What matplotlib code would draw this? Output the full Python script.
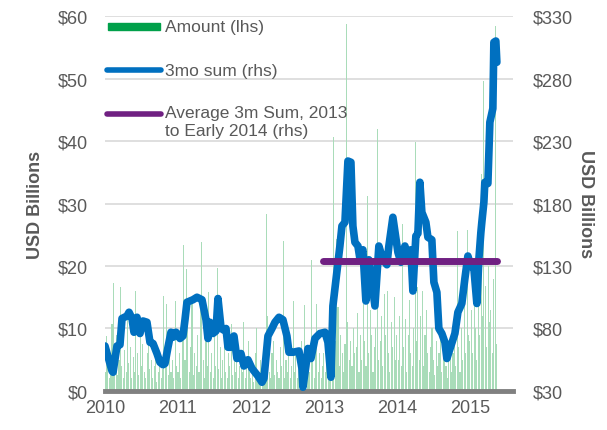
import numpy as np
import matplotlib
matplotlib.use('Agg')
import matplotlib.pyplot as plt

plt.rcParams['font.family'] = ['Liberation Sans', 'DejaVu Sans']

# weekly amounts (USD bn, lhs), starting first week of 2010
amount_2010 = [3.0, 8.8, 4.5, 2.0, 6.0, 10.7, 17.3, 3.5, 9.0, 2.5, 5.0, 16.6, 4.0, 2.0, 6.5, 3.0,
               12.5, 4.5, 7.0, 2.0, 5.5, 3.0, 16.0, 6.0, 2.5, 9.5, 4.0, 7.5, 3.0, 2.0, 6.0, 8.0,
               3.5, 5.0, 2.0, 4.0, 7.0, 1.5, 3.0, 5.5, 2.0, 3.5, 15.2, 4.0, 14.0, 2.5, 6.0, 3.0,
               5.0, 2.0, 14.4, 4.0]
amount_2011 = [3.0, 6.0, 2.0, 8.5, 23.4, 5.0, 19.5, 14.0, 3.0, 7.0, 15.0, 2.5, 6.0, 4.0, 9.0, 3.0,
               13.0, 23.8, 5.0, 2.0, 8.0, 4.0, 15.8, 3.0, 6.0, 2.0, 9.0, 4.0, 19.7, 3.5, 7.0, 2.0,
               5.0, 9.5, 3.0, 2.0, 6.0, 4.0, 10.7, 2.5, 5.0, 3.0, 7.5, 2.0, 4.0, 6.0, 3.0, 11.0,
               2.0, 5.0, 8.0, 3.0]
amount_2012 = [2.0, 4.0, 1.5, 6.0, 10.0, 3.0, 2.0, 5.0, 2.5, 4.0, 3.0, 28.3, 12.0, 3.0, 2.0, 6.0,
               8.0, 2.5, 5.0, 3.0, 2.0, 7.0, 4.0, 24.0, 2.0, 5.0, 3.0, 9.0, 2.0, 4.0, 14.4, 3.0,
               6.0, 2.0, 5.0, 3.0, 8.0, 2.0, 13.7, 4.0, 2.5, 6.0, 3.0, 21.0, 5.0, 2.0, 7.0, 14.0,
               3.0, 6.0, 2.0, 4.0]
amount_2013 = [6.0, 3.0, 9.0, 4.0, 7.0, 12.0, 5.0, 40.6, 8.0, 24.3, 13.4, 4.0, 9.0, 6.0, 3.0, 7.5,
               58.7, 11.0, 5.0, 8.0, 4.0, 10.0, 6.0, 7.0, 12.5, 3.0, 9.0, 5.0, 14.0, 8.0, 4.0, 31.2,
               6.0, 13.0, 9.0, 3.0, 7.0, 10.0, 41.9, 5.0, 8.0, 12.0, 4.0, 15.5, 9.0, 16.0, 6.0, 3.0,
               11.0, 7.0, 15.0, 5.0]
amount_2014 = [9.0, 5.0, 12.0, 4.0, 26.7, 7.0, 11.5, 3.0, 9.0, 14.5, 6.0, 4.0, 10.0, 39.8, 8.0, 16.6,
               5.0, 12.0, 16.0, 4.0, 9.0, 13.0, 6.0, 3.0, 7.0, 10.0, 5.0, 2.5, 8.0, 4.0, 6.0, 11.0,
               3.0, 7.0, 9.5, 4.0, 2.0, 5.0, 8.0, 3.0, 6.0, 12.5, 4.0, 25.6, 7.0, 3.0, 10.0, 5.0,
               14.0, 6.0, 25.8, 9.0]
amount_2015 = [8.0, 13.0, 6.0, 18.0, 10.0, 5.0, 15.0, 9.0, 34.7, 12.0, 49.6, 16.8, 7.0, 20.0, 11.0,
               13.0, 6.0, 18.0, 58.4, 7.5]
amount = amount_2010 + amount_2011 + amount_2012 + amount_2013 + amount_2014 + amount_2015
week_t = 2010 + np.arange(len(amount)) / 52.0

# 3mo sum (USD bn, rhs) at decimal-year positions
sum_t = [2010.000, 2010.096, 2010.110, 2010.164, 2010.205, 2010.233, 2010.301, 2010.329, 2010.370,
         2010.397, 2010.438, 2010.479, 2010.521, 2010.575, 2010.616, 2010.658, 2010.712, 2010.753,
         2010.795, 2010.822, 2010.863, 2010.904, 2010.932, 2010.973, 2011.027, 2011.068, 2011.096,
         2011.123, 2011.205, 2011.260, 2011.329, 2011.384, 2011.411, 2011.438, 2011.479, 2011.521,
         2011.548, 2011.589, 2011.616, 2011.658, 2011.685, 2011.726, 2011.767, 2011.808, 2011.863,
         2011.904, 2011.959, 2012.014, 2012.055, 2012.096, 2012.151, 2012.178, 2012.233, 2012.288,
         2012.329, 2012.384, 2012.438, 2012.493, 2012.521, 2012.575, 2012.658, 2012.699, 2012.712,
         2012.753, 2012.781, 2012.822, 2012.877, 2012.945, 2013.014, 2013.055, 2013.096, 2013.123,
         2013.192, 2013.219, 2013.247, 2013.288, 2013.329, 2013.370, 2013.397, 2013.425, 2013.466,
         2013.493, 2013.534, 2013.575, 2013.616, 2013.699, 2013.753, 2013.808, 2013.863, 2013.890,
         2013.945, 2014.014, 2014.055, 2014.110, 2014.151, 2014.192, 2014.219, 2014.260, 2014.288,
         2014.315, 2014.342, 2014.397, 2014.425, 2014.479, 2014.507, 2014.548, 2014.575, 2014.616,
         2014.658, 2014.685, 2014.740, 2014.795, 2014.836, 2014.890, 2014.932, 2014.973, 2015.014,
         2015.055, 2015.096, 2015.123, 2015.151, 2015.164, 2015.192, 2015.205, 2015.247, 2015.274,
         2015.315, 2015.329, 2015.356, 2015.370]
sum_v = [66, 46, 45, 66, 67, 88, 90, 93, 88, 77, 89, 76, 86, 85, 69, 68, 60, 53, 51, 52, 65, 77,
         73, 77, 72, 74, 87, 101, 103, 105, 103, 87, 72, 85, 76, 78, 104, 81, 79, 80, 65, 65, 74,
         56, 60, 50, 55, 48, 45, 42, 37, 40, 74, 80, 85, 89, 87, 74, 61, 61, 62, 48, 33, 50, 64,
         56, 72, 76, 77, 69, 41, 98, 133, 146, 162, 165, 214, 213, 162, 149, 146, 136, 143, 102,
         135, 98, 146, 135, 131, 146, 169, 141, 133, 146, 135, 143, 110, 154, 156, 197, 173, 165,
         153, 151, 117, 109, 80, 76, 69, 56, 66, 76, 93, 100, 120, 138, 130, 128, 100, 135, 157,
         165, 181, 197, 196, 245, 256, 309, 310, 293]

# average 3m sum 2013 to early 2014 (rhs)
avg_t = [2012.99, 2015.37]
avg_v = [134, 134]

left_ticks = [0, 10, 20, 30, 40, 50, 60]
right_ticks = [30, 80, 130, 180, 230, 280, 330]
year_ticks = [2010, 2011, 2012, 2013, 2014, 2015]

GREY = '#595959'
fig = plt.figure(figsize=(6.07, 4.31), dpi=100)
ax = fig.add_axes([0.173, 0.0905, 0.672, 0.870])
ax.bar(week_t, amount, width=0.015, color='#a9dcb9', linewidth=0, zorder=2)
ax.set_ylim(0, 60)
ax.set_xlim(2010, 2015.59)
ax.set_yticks(left_ticks)
ax.set_yticklabels([f'${v}' for v in left_ticks])
ax.set_xticks(year_ticks)
ax.set_xticklabels([str(y) for y in year_ticks])
ax.grid(axis='y', color='#d9d9d9', linewidth=1.2, zorder=0)
ax.set_axisbelow(True)
for s in ['top', 'left', 'right']:
    ax.spines[s].set_visible(False)
ax.spines['bottom'].set_color('#808080')
ax.spines['bottom'].set_linewidth(3.5)
ax.spines['bottom'].set_zorder(5)
ax.tick_params(axis='both', length=0, labelsize=13, labelcolor=GREY)
ax.tick_params(axis='y', pad=12)
ax.tick_params(axis='x', pad=6)
ax.set_ylabel('USD Billions', fontsize=13, fontweight='bold', color=GREY)
ax.yaxis.set_label_coords(-0.15, 0.5)

ax2 = ax.twinx()
ax2.plot(sum_t, sum_v, color='#0070c0', linewidth=5.5, solid_joinstyle='round',
         solid_capstyle='round', zorder=3)
ax2.plot(avg_t, avg_v, color='#702082', linewidth=5, solid_capstyle='round', zorder=4)
ax2.set_ylim(30, 330)
ax2.set_yticks(right_ticks)
ax2.set_yticklabels([f'${v}' for v in right_ticks])
for s in ['top', 'left', 'right', 'bottom']:
    ax2.spines[s].set_visible(False)
ax2.tick_params(axis='y', length=0, labelsize=13, labelcolor=GREY, pad=14)
ax2.set_ylabel('USD Billions', fontsize=13, fontweight='bold', color=GREY, rotation=270)
ax2.yaxis.set_label_coords(1.2, 0.5)

# legend, drawn by hand to match the layout
tr = ax2.transAxes
ax2.add_patch(plt.Rectangle((0.007, 0.962), 0.128, 0.019, transform=tr, color='#00a04a',
                            clip_on=False, zorder=6))
ax2.plot([0.004, 0.137], [0.856, 0.856], transform=tr, color='#0070c0', linewidth=4,
         solid_capstyle='round', clip_on=False, zorder=6)
ax2.plot([0.004, 0.137], [0.739, 0.739], transform=tr, color='#702082', linewidth=4,
         solid_capstyle='round', clip_on=False, zorder=6)
ax2.text(0.147, 0.971, 'Amount (lhs)', transform=tr, fontsize=12.5, color=GREY, va='center')
ax2.text(0.147, 0.856, '3mo sum (rhs)', transform=tr, fontsize=12.5, color=GREY, va='center')
ax2.text(0.147, 0.764, 'Average 3m Sum, 2013\nto Early 2014 (rhs)', transform=tr, fontsize=12.5,
         color=GREY, va='top', linespacing=1.3)

fig.savefig('out.png', dpi=100)
